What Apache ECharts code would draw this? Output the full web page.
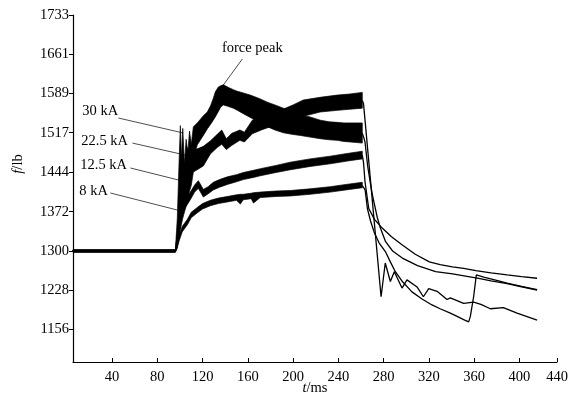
<!DOCTYPE html>
<html>
<head>
<meta charset="utf-8">
<script src="https://cdn.jsdelivr.net/npm/echarts@6/dist/echarts.min.js"></script>
<style>
  html, body { margin: 0; padding: 0; background: #fff; }
  #chart { width: 571px; height: 408px; }
</style>
</head>
<body>
<div id="chart"></div>
<script>
// Axis ticks
const xTicks = [40, 80, 120, 160, 200, 240, 280, 320, 360, 400];
const xEnd = 433.3;            // right end of the time axis, labelled 440
const xEndLabel = '440';
const yTicks = [1156, 1228, 1300, 1372, 1444, 1517, 1589, 1661, 1733];

// Force during the current pulse: band of oscillation (lower / upper envelope), lb
const t30  = [5.5, 96, 97.7, 99.5, 100.4, 101.3, 102.5, 104, 105.5, 107, 108.5, 110, 111.9, 115.4, 120.7, 124.2, 127, 129.5, 131.3, 134, 136, 138.4, 143, 147.2, 150.8, 156, 162.2, 170, 177.3, 184, 191.4, 199, 206.4, 215, 224.1, 232, 239, 245, 250.6, 256, 261.2];
const lo30 = [1298, 1298, 1305, 1330, 1350, 1375, 1390, 1400, 1410, 1430, 1440, 1455, 1470, 1495, 1512, 1524, 1532, 1540, 1546, 1556, 1564, 1568, 1565, 1562, 1558, 1552, 1545, 1536, 1528, 1522, 1517, 1514, 1512, 1509, 1506, 1504, 1503, 1501, 1500, 1499, 1498];
const hi30 = [1302, 1302, 1360, 1480, 1530, 1470, 1525, 1460, 1505, 1480, 1520, 1495, 1528, 1535, 1548, 1555, 1566, 1580, 1592, 1601, 1603, 1605, 1600, 1596, 1593, 1590, 1586, 1580, 1573, 1568, 1562, 1557, 1550, 1546, 1540, 1537, 1536, 1535, 1535, 1535, 1535];

const t225  = [5.5, 96, 98, 100.4, 102.5, 104.5, 106.5, 108.5, 110, 111.9, 116, 120.7, 126.9, 133, 137, 141, 146, 153, 157, 164, 172, 180, 191, 200, 209, 224, 239, 250, 261.2];
const lo225 = [1298, 1298, 1310, 1340, 1360, 1375, 1390, 1410, 1420, 1445, 1450, 1456, 1478, 1490, 1496, 1486, 1494, 1503, 1500, 1515, 1522, 1528, 1533, 1540, 1547, 1555, 1558, 1560, 1562];
const hi225 = [1302, 1302, 1340, 1420, 1470, 1430, 1490, 1460, 1480, 1485, 1488, 1492, 1502, 1514, 1522, 1506, 1516, 1522, 1518, 1540, 1548, 1553, 1560, 1568, 1577, 1582, 1586, 1588, 1591];

const t125  = [5.5, 96, 98, 100.4, 104, 109.2, 113, 116.3, 118.5, 120.7, 125, 129.5, 135, 141.9, 150, 156.1, 165, 171.1, 185, 197.6, 215, 232.9, 248, 261.2];
const lo125 = [1298, 1298, 1320, 1357, 1377, 1394, 1408, 1415, 1407, 1399, 1405, 1412, 1417, 1422, 1427, 1431, 1435, 1438, 1444, 1449, 1455, 1460, 1465, 1469];
const hi125 = [1302, 1302, 1333, 1370, 1390, 1408, 1421, 1429, 1421, 1413, 1418, 1426, 1431, 1436, 1440, 1444, 1448, 1451, 1457, 1463, 1469, 1474, 1479, 1483];

const t8  = [5.5, 96, 98.6, 102, 106.6, 110, 115.4, 120, 126.9, 134, 141.9, 150, 153.4, 156, 163, 165, 171, 185, 197.6, 215, 232.9, 250, 261.2];
const lo8 = [1298, 1298, 1314, 1335, 1348, 1361, 1370, 1377, 1383, 1387, 1390, 1393, 1386, 1394, 1396, 1388, 1398, 1400, 1401, 1404, 1408, 1413, 1416];
const hi8 = [1302, 1302, 1324, 1345, 1358, 1371, 1380, 1387, 1393, 1397, 1400, 1403, 1404, 1404, 1406, 1407, 1408, 1410, 1411, 1414, 1418, 1423, 1426];

// Force after the pulse (decay), lb
const td30 = [261.2, 262.5, 263.6, 266, 268.3, 270.1, 272, 274.5, 277.2, 281.8, 288, 296.6, 310, 326, 341, 355, 362.9, 375, 389.2, 402, 415.7];
const fd30 = [1516, 1508, 1500, 1455, 1425, 1403, 1385, 1361, 1342, 1317, 1300, 1287, 1273, 1262, 1258, 1253, 1250, 1245, 1240, 1234, 1228];

const td225 = [261.2, 262.3, 277.8, 281.5, 286, 289.5, 296.3, 300.7, 309.6, 315.2, 319.9, 327.3, 336.1, 339.0, 350.8, 359.6, 366, 374.4, 385.9, 398.0, 415.7];
const fd225 = [1576, 1570, 1216, 1278, 1244, 1262, 1232, 1247, 1234, 1216, 1231, 1226, 1211, 1214, 1204, 1206, 1202, 1194, 1196, 1186, 1173];

const td125 = [261.2, 262.3, 263.6, 266.9, 272, 278.8, 287, 296.6, 308, 320.5, 330, 340.8, 350.8, 361.6, 375, 389.2, 402, 415.7];
const fd125 = [1476, 1462, 1427, 1378, 1358, 1342, 1326, 1311, 1294, 1280, 1275, 1271, 1268, 1264, 1260, 1256, 1253, 1250];

const td8 = [261.2, 262.3, 263.7, 265.7, 268.5, 271.6, 276, 281.6, 286, 290.4, 297, 305.1, 314, 322.8, 330, 339, 345, 350.8, 355.2, 356.7, 359.6, 362.0, 368.5, 380, 389.2, 402, 415.7];
const fd8 = [1420, 1418, 1412, 1378, 1355, 1335, 1315, 1299, 1280, 1262, 1243, 1225, 1212, 1201, 1194, 1186, 1180, 1174, 1170, 1180, 1216, 1256, 1252, 1246, 1241, 1235, 1229];

// Callout labels: text, text anchor [t, f], leader from / to [t, f]
const callouts = [
  { text: '30 kA',   at: [13.7, 1557], from: [45.6, 1544], to: [103, 1516.5], align: 'left' },
  { text: '22.5 kA', at: [12.9, 1502], from: [58, 1498],   to: [116.3, 1470.6], align: 'left' },
  { text: '12.5 kA', at: [12, 1457.8], from: [56.2, 1452.3], to: [102.1, 1428.5], align: 'left' },
  { text: '8 kA',    at: [11.1, 1410], from: [38.5, 1406.4], to: [97.7, 1375.2], align: 'left' },
  { text: 'force peak', at: [164, 1672.5], from: [155.2, 1652.3], to: [138.4, 1604.6], align: 'center' }
];

const FONT = 'Liberation Serif';
const INK = '#000';

function zip(a, b) { return a.map((v, i) => [v, b[i]]); }

// Oscillation band: one closed outline, upper envelope forward and lower envelope back
function bandSeries(name, t, lo, hi) {
  const n = t.length;
  return {
    name: name + '-band', type: 'custom', silent: true,
    data: t.map((v, i) => [v, lo[i], hi[i]]),
    encode: { x: 0, y: [1, 2] },
    renderItem: function (params, api) {
      if (params.dataIndexInside !== 0) return null;
      const pts = [];
      for (let j = 0; j < n; j++) pts.push(api.coord([api.value(0, j), api.value(2, j)]));
      for (let j = n - 1; j >= 0; j--) pts.push(api.coord([api.value(0, j), api.value(1, j)]));
      return {
        type: 'polygon',
        shape: { points: pts },
        style: { fill: INK, stroke: INK, lineWidth: 0.7, lineJoin: 'round' }
      };
    }
  };
}

function decaySeries(name, t, f) {
  return {
    name: name + '-decay', type: 'line', data: zip(t, f),
    showSymbol: false, lineStyle: { color: INK, width: 1.3 }, silent: true
  };
}

const chart = echarts.init(document.getElementById('chart'), null, { renderer: 'canvas' });

chart.setOption({
  animation: false,
  backgroundColor: '#fff',
  grid: { left: 73, right: 14, top: 15, bottom: 46 },
  xAxis: {
    type: 'value', min: 5.5, max: xEnd,
    name: '{i|t}/ms', nameLocation: 'middle', nameGap: 19, nameMoveOverlap: false,
    nameTextStyle: {
      fontFamily: FONT, fontSize: 14.5, color: INK,
      rich: { i: { fontFamily: FONT, fontSize: 14.5, fontStyle: 'italic', color: INK } }
    },
    axisLine: { lineStyle: { color: INK, width: 1.2 } },
    axisTick: { show: true, inside: true, length: 4, customValues: xTicks.concat([xEnd]), lineStyle: { color: INK } },
    axisLabel: {
      customValues: xTicks.concat([xEnd]), margin: 8,
      fontFamily: FONT, fontSize: 14.5, color: INK,
      formatter: v => (v === xEnd ? xEndLabel : String(v))
    },
    splitLine: { show: false }
  },
  yAxis: {
    type: 'value', min: 1096.3, max: 1733,
    axisLine: { show: true, lineStyle: { color: INK, width: 1.2 } },
    axisTick: { show: true, inside: false, length: 4, customValues: yTicks, lineStyle: { color: INK } },
    axisLabel: {
      customValues: yTicks, margin: 4,
      fontFamily: FONT, fontSize: 14.5, color: INK,
      formatter: v => String(Math.round(v))
    },
    splitLine: { show: false }
  },
  series: [
    bandSeries('8kA', t8, lo8, hi8),
    bandSeries('12.5kA', t125, lo125, hi125),
    bandSeries('22.5kA', t225, lo225, hi225),
    bandSeries('30kA', t30, lo30, hi30),
    decaySeries('8kA', td8, fd8),
    decaySeries('12.5kA', td125, fd125),
    decaySeries('22.5kA', td225, fd225),
    decaySeries('30kA', td30, fd30)
  ]
});

// Callouts and the vertical axis title, placed through the chart's coordinate system
const toPx = p => chart.convertToPixel({ gridIndex: 0 }, p);
const graphics = [];
callouts.forEach(c => {
  const a = toPx(c.from), b = toPx(c.to), p = toPx(c.at);
  graphics.push({
    type: 'line', silent: true,
    shape: { x1: a[0], y1: a[1], x2: b[0], y2: b[1] },
    style: { stroke: '#3a3a3a', lineWidth: 0.9 }
  });
  graphics.push({
    type: 'text', silent: true, x: p[0], y: p[1],
    style: {
      text: c.text, fill: INK, font: '14.5px "' + FONT + '"',
      align: c.align, verticalAlign: 'middle'
    }
  });
});
graphics.push({
  type: 'text', silent: true, x: 18, y: 164, rotation: Math.PI / 2,
  style: {
    text: '{i|f}/lb', fill: INK, font: '14.5px "' + FONT + '"',
    align: 'center', verticalAlign: 'middle',
    rich: { i: { fontStyle: 'italic', fontFamily: FONT, fontSize: 14.5, fill: INK } }
  }
});
chart.setOption({ graphic: graphics });
</script>
</body>
</html>
